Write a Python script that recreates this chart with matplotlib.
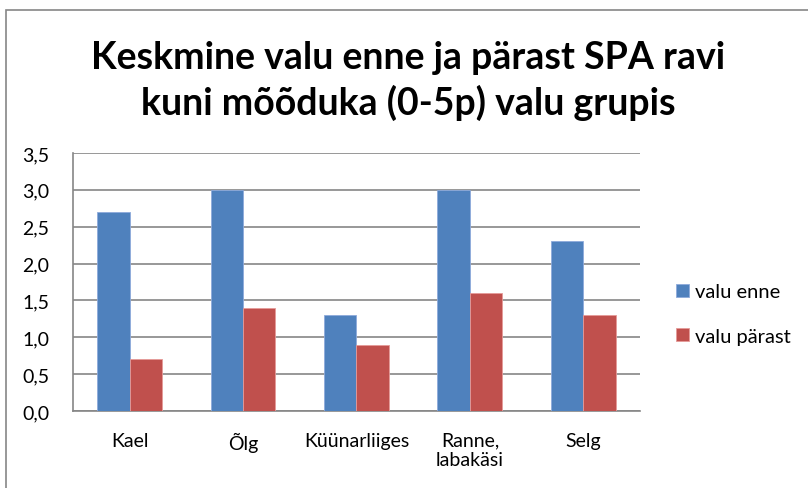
import matplotlib
matplotlib.use("Agg")
import matplotlib.pyplot as plt
import numpy as np
from matplotlib.patches import Rectangle

categories = ["Kael", "Õlg", "Küünarliiges", "Ranne,\nlabakäsi", "Selg"]
valu_enne = [2.7, 3.0, 1.3, 3.0, 2.3]
valu_parast = [0.7, 1.4, 0.9, 1.6, 1.3]
series_names = ["valu enne", "valu pärast"]
title = "Keskmine valu enne ja pärast SPA ravi\nkuni mõõduka (0-5p) valu grupis"
yticks = [0.0, 0.5, 1.0, 1.5, 2.0, 2.5, 3.0, 3.5]

plt.rcParams['font.family'] = ['Lato', 'DejaVu Sans']
W, H = 808, 489
fig = plt.figure(figsize=(W/100, H/100), dpi=100)

# outer chart frame
fig.add_artist(Rectangle((6/W, -0.1), 1.2, (H-11)/H + 0.1, transform=fig.transFigure,
                         fill=False, edgecolor="#868686", linewidth=1.2))

left, right, top, bottom = 73, 640, 154, 412
ax = fig.add_axes([left/W, 1-bottom/H, (right-left)/W, (bottom-top)/H])

x = np.arange(len(categories))
bw = 1/3.5
blue = "#4F81BD"
red = "#C0504D"
ax.bar(x - bw/2, valu_enne, width=bw, color=blue, edgecolor="#8EAADB", linewidth=0.6, label=series_names[0], zorder=3)
ax.bar(x + bw/2, valu_parast, width=bw, color=red, edgecolor="#E59A98", linewidth=0.6, label=series_names[1], zorder=3)

ax.set_xlim(-0.5, len(categories)-0.5)
ax.set_ylim(0, 3.5)
ax.set_yticks(yticks)
ax.set_yticklabels([f"{v:.1f}".replace(".", ",") for v in yticks], fontsize=14)
ax.set_xticks(x)
ax.set_xticklabels(categories, fontsize=14, linespacing=1.15)
ax.tick_params(axis='x', length=0, pad=15)
ax.tick_params(axis='y', length=0, pad=17)
ax.yaxis.grid(True, color="#868686", linewidth=1.2, zorder=0)
for s in ["top", "right"]:
    ax.spines[s].set_visible(False)
ax.spines["left"].set_color("#868686")
ax.spines["bottom"].set_color("#868686")
ax.spines["left"].set_linewidth(1.2)
ax.spines["bottom"].set_linewidth(1.2)

fig.text(408/W, 1-81/H, title, ha="center", va="center", fontsize=27, fontweight="bold", linespacing=1.3)

leg = fig.legend(handles=[ax.patches[0], ax.patches[len(categories)]],
                 labels=series_names, loc="center left", bbox_to_anchor=(658/W, 1-315/H),
                 frameon=False, fontsize=14.5, handlelength=0.65, handleheight=0.65,
                 handletextpad=0.3, labelspacing=1.35)

fig.savefig("out.png", dpi=100)
